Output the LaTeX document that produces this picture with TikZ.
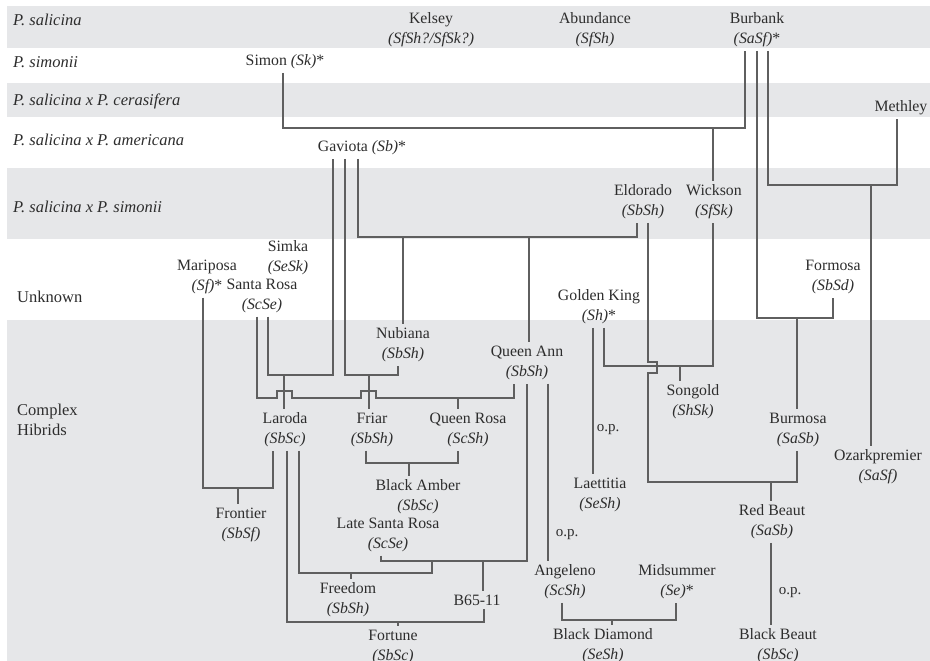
\documentclass[tikz,border=0pt]{standalone}
\usepackage{fontspec}
\setmainfont{Liberation Serif}
\definecolor{band}{RGB}{230,231,233}
\definecolor{txt}{RGB}{45,45,45}
\definecolor{lc}{RGB}{95,95,95}
\newcommand\gt[1]{{\itshape #1}}
\tikzset{
  cv/.style={align=center, font=\fontsize{15.8}{20}\selectfont, text=txt, inner xsep=1pt, inner ysep=3.5pt},
  one/.style={font=\fontsize{15.8}{20}\selectfont, text=txt, inner xsep=1pt, inner ysep=3.5pt},
  rl/.style={anchor=west, font=\fontsize{16.5}{18}\selectfont\itshape, text=txt, inner sep=0pt},
  ru/.style={anchor=west, align=left, font=\fontsize{16.5}{20}\selectfont, text=txt, inner sep=0pt},
  op/.style={font=\fontsize{15}{18}\selectfont, text=txt, inner sep=0pt},
  ln/.style={draw=lc, line width=1.2pt},
}
\begin{document}
\begin{tikzpicture}[x=1pt,y=-1pt]
\clip (0,0) rectangle (930,661);
\fill[white] (0,0) rectangle (930,661);
% bands
\fill[band] (7,6) rectangle (930,48);
\fill[band] (7,83) rectangle (930,117);
\fill[band] (7,168) rectangle (930,239);
\fill[band] (7,320) rectangle (930,661);
% row labels
\node[rl] (r1) at (13,20) {P. salicina};
\node[rl] (r2) at (13,62) {P. simonii};
\node[rl] (r3) at (13,101) {P. salicina x P. cerasifera};
\node[rl] (r4) at (13,140) {P. salicina x P. americana};
\node[rl] (r5) at (13,207) {P. salicina x P. simonii};
\node[ru] (r6) at (17,297) {Unknown};
\node[ru] (r7) at (17,420) {Complex\\Hibrids};
% cultivars
\node[cv] (kelsey) at (431,30) {Kelsey\\\gt{(SfSh?/SfSk?)}};
\node[cv] (abundance) at (595,30) {Abundance\\\gt{(SfSh)}};
\node[cv] (burbank) at (757,30) {Burbank\\\gt{(SaSf)}*};
\node[one] (simon) at (285,62) {Simon \gt{(Sk)}*};
\node[one] (methley) at (901,108) {Methley};
\node[one] (gaviota) at (362,148) {Gaviota \gt{(Sb)}*};
\node[cv] (eldorado) at (643,202) {Eldorado\\\gt{(SbSh)}};
\node[cv] (wickson) at (714,202) {Wickson\\\gt{(SfSk)}};
\node[cv] (simka) at (288,258) {Simka\\\gt{(SeSk)}};
\node[cv] (mariposa) at (207,277) {Mariposa\\\gt{(Sf)}*};
\node[cv] (santarosa) at (262,296) {Santa Rosa\\\gt{(ScSe)}};
\node[cv] (goldenking) at (599,307) {Golden King\\\gt{(Sh)}*};
\node[cv] (formosa) at (833,277) {Formosa\\\gt{(SbSd)}};
\node[cv] (nubiana) at (403,345) {Nubiana\\\gt{(SbSh)}};
\node[cv] (queenann) at (527,363) {Queen Ann\\\gt{(SbSh)}};
\node[cv] (songold) at (693,402) {Songold\\\gt{(ShSk)}};
\node[cv] (laroda) at (285,430) {Laroda\\\gt{(SbSc)}};
\node[cv] (friar) at (372,430) {Friar\\\gt{(SbSh)}};
\node[cv] (queenrosa) at (468,430) {Queen Rosa\\\gt{(ScSh)}};
\node[cv] (burmosa) at (798,430) {Burmosa\\\gt{(SaSb)}};
\node[cv] (ozark) at (878,467) {Ozarkpremier\\\gt{(SaSf)}};
\node[cv] (blackamber) at (418,497) {Black Amber\\\gt{(SbSc)}};
\node[cv] (laettitia) at (600,495) {Laettitia\\\gt{(SeSh)}};
\node[cv] (frontier) at (241,525) {Frontier\\\gt{(SbSf)}};
\node[cv] (redbeaut) at (772,522) {Red Beaut\\\gt{(SaSb)}};
\node[cv] (latesantarosa) at (388,535) {Late Santa Rosa\\\gt{(ScSe)}};
\node[cv] (angeleno) at (565,582) {Angeleno\\\gt{(ScSh)}};
\node[cv] (midsummer) at (677,582) {Midsummer\\\gt{(Se)}*};
\node[cv] (freedom) at (348,600) {Freedom\\\gt{(SbSh)}};
\node[one] (b6511) at (477,600) {B65-11};
\node[cv] (fortune) at (393,647) {Fortune\\\gt{(SbSc)}};
\node[cv] (blackdiamond) at (603,646) {Black Diamond\\\gt{(SeSh)}};
\node[cv] (blackbeaut) at (778,646) {Black Beaut\\\gt{(SbSc)}};
% o.p. labels
\node[op] (op1) at (608,430) {o.p.};
\node[op] (op2) at (567,535) {o.p.};
\node[op] (op3) at (790,593) {o.p.};
% connectors
\draw[ln] ([xshift=-2pt]simon.south) |- (745,128) -- ([xshift=-12pt]burbank.south);
\draw[ln] (713,128) -- ([xshift=-1pt]wickson.north);
\draw[ln] ([xshift=11pt]burbank.south) |- (897,185) -- ([xshift=-4pt]methley.south);
\draw[ln] (871,185) -- ([xshift=-7pt]ozark.north);
\draw[ln] (burbank.south) |- (833,318) -- (formosa.south);
\draw[ln] (797,318) -- ([xshift=-1pt]burmosa.north);
\draw[ln] ([xshift=-4pt]gaviota.south) |- (637,237) -- ([xshift=-6pt]eldorado.south);
\draw[ln] (403,237) -- (nubiana.north);
\draw[ln] (529,237) -- ([xshift=2pt]queenann.north);
\draw[ln] ([xshift=6pt]santarosa.south) |- (333,375) -- ([xshift=-29pt]gaviota.south);
\draw[ln] (284,375) -- ([xshift=-1pt]laroda.north);
\draw[ln] ([xshift=-17pt]gaviota.south) |- (398,375) -- ([xshift=-5pt]nubiana.south);
\draw[ln] (369,375) -- ([xshift=-3pt]friar.north);
\draw[ln] ([xshift=-5pt]santarosa.south) |- (277,398) -- (277,391) -- (292,391) -- (292,398)
  -- (361,398) -- (361,391) -- (376,391) -- (376,398) -- (514,398) -- ([xshift=-13pt]queenann.south);
\draw[ln] (458,398) -- ([xshift=-10pt]queenrosa.north);
\draw[ln] ([xshift=-4pt]mariposa.south) |- (273,488) -- ([xshift=-12pt]laroda.south);
\draw[ln] (238,488) -- ([xshift=-3pt]frontier.north);
\draw[ln] ([xshift=-6pt]friar.south) |- (458,463) -- ([xshift=-10pt]queenrosa.south);
\draw[ln] (409,463) -- ([xshift=-9pt]blackamber.north);
\draw[ln] ([xshift=-7pt]latesantarosa.south) |- (527,561) -- (queenann.south);
\draw[ln] (483,561) -- ([xshift=6pt]b6511.north);
\draw[ln] ([xshift=14pt]laroda.south) |- (432,573) -- (432,561);
\draw[ln] (351,573) -- ([xshift=3pt]freedom.north);
\draw[ln] ([xshift=2pt]laroda.south) |- (484,622) -- ([xshift=7pt]b6511.south);
\draw[ln] (398,622) -- ([xshift=5pt]fortune.north);
\draw[ln] ([xshift=21pt]queenann.south) -- ([xshift=-17pt]angeleno.north);
\draw[ln] ([xshift=-3pt]angeleno.south) |- (676,620) -- ([xshift=-1pt]midsummer.south);
\draw[ln] (612,620) -- ([xshift=9pt]blackdiamond.north);
\draw[ln] ([xshift=-6pt]goldenking.south) -- ([xshift=-7pt]laettitia.north);
\draw[ln] ([xshift=5pt]goldenking.south) |- (713,366) -- ([xshift=-1pt]wickson.south);
\draw[ln] (680,366) -- ([xshift=-13pt]songold.north);
\draw[ln] ([xshift=5pt]eldorado.south) -- (648,362) -- (657,362) -- (657,373) -- (648,373)
  |- (797,482) -- ([xshift=-1pt]burmosa.south);
\draw[ln] (771,482) -- ([xshift=-1pt]redbeaut.north);
\draw[ln] ([xshift=-1pt]redbeaut.south) -- ([xshift=-7pt]blackbeaut.north);
\end{tikzpicture}
\end{document}
